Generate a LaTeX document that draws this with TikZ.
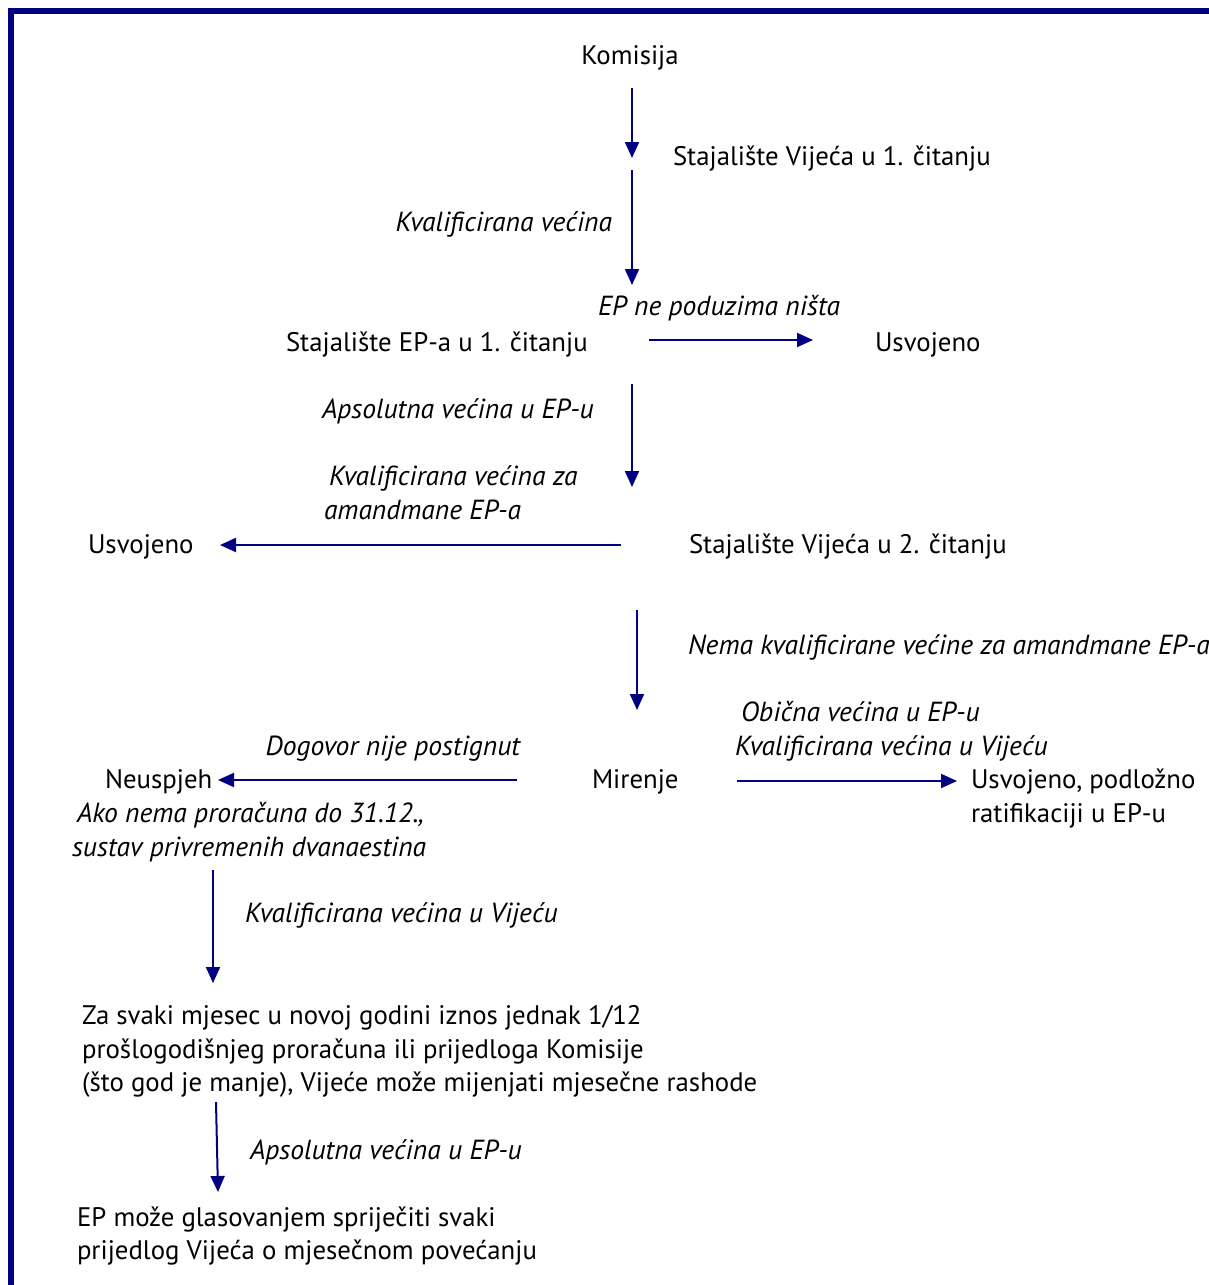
\documentclass[tikz,border=0pt]{standalone}
\usepackage{fontspec}
\setmainfont{PT Sans}
\usetikzlibrary{arrows.meta}
\definecolor{navyc}{RGB}{0,0,128}
\tikzset{
  txt/.style={inner sep=0pt, outer sep=0pt, font=\fontsize{26.8}{34}\selectfont},
  itxt/.style={txt, font=\fontsize{27.6}{34}\selectfont\itshape},
  arr/.style={navyc, line width=2pt, -{Triangle[length=16pt,width=14pt]}},
}
\begin{document}
\begin{tikzpicture}[x=1pt,y=-1pt]
\useasboundingbox (0,0) rectangle (1209,1285);
\clip (0,0) rectangle (1209,1285);
\draw[navyc, line width=6pt] (11,11) rectangle (1400,1500);

\node[txt, anchor=base] (kom) at (630,64) {Komisija};
\node[txt, anchor=base west] (sv1) at (673,165) {Stajalište Vijeća u 1. čitanju};
\node[itxt, anchor=base east] (kv1) at (612,231) {Kvalificirana većina};
\node[itxt, anchor=base west] (epn) at (598,315) {EP ne poduzima ništa};
\node[txt, anchor=base west] (sep) at (286,351) {Stajalište EP-a u 1. čitanju};
\node[txt, anchor=base west] (usv1) at (875,351) {Usvojeno};
\node[itxt, anchor=base west] (aps1) at (322,418) {Apsolutna većina u EP-u};
\node[itxt, anchor=base west] (kvz) at (329,485) {Kvalificirana većina za};
\node[itxt, anchor=base west] (kvz2) at (324,519) {amandmane EP-a};
\node[txt, anchor=base west] (usv2) at (88,553) {Usvojeno};
\node[txt, anchor=base west] (sv2) at (689,553) {Stajalište Vijeća u 2. čitanju};
\node[itxt, anchor=base west] (nema) at (688,654) {Nema kvalificirane većine za amandmane EP-a};
\node[itxt, anchor=base west] (obi) at (741,721) {Obična većina u EP-u};
\node[itxt, anchor=base west] (kvv1) at (735,755) {Kvalificirana većina u Vijeću};
\node[txt, anchor=base west] (mir) at (592,788) {Mirenje};
\node[txt, anchor=base west] (usv3) at (971,788) {Usvojeno, podložno};
\node[txt, anchor=base west] (usv3b) at (971,822) {ratifikaciji u EP-u};
\node[itxt, anchor=base east] (dog) at (520,755) {Dogovor nije postignut};
\node[txt, anchor=base west] (neu) at (105,788) {Neuspjeh};
\node[itxt, anchor=base west] (ako) at (77,822) {Ako nema proračuna do 31.12.,};
\node[itxt, anchor=base west] (sus) at (72,856) {sustav privremenih dvanaestina};
\node[itxt, anchor=base west] (kvv2) at (245,922) {Kvalificirana većina u Vijeću};
\node[txt, anchor=base west] (za1) at (82,1024) {Za svaki mjesec u novoj godini iznos jednak 1/12};
\node[txt, anchor=base west] (za2) at (82,1058) {prošlogodišnjeg proračuna ili prijedloga Komisije};
\node[txt, anchor=base west] (za3) at (82,1091) {(što god je manje), Vijeće može mijenjati mjesečne rashode};
\node[itxt, anchor=base west] (aps2) at (250,1159) {Apsolutna većina u EP-u};
\node[txt, anchor=base west] (epm1) at (77,1226) {EP može glasovanjem spriječiti svaki};
\node[txt, anchor=base west] (epm2) at (77,1259) {prijedlog Vijeća o mjesečnom povećanju};

\coordinate (a1s) at (632,88);   \coordinate (a1e) at (632,158);
\coordinate (a2s) at (632,170);  \coordinate (a2e) at (632,285);
\coordinate (a3s) at (649,340);  \coordinate (a3e) at (813,340);
\coordinate (a4s) at (632,384);  \coordinate (a4e) at (632,487);
\coordinate (a5s) at (621,545);  \coordinate (a5e) at (220,545);
\coordinate (a6s) at (637,610);  \coordinate (a6e) at (637,710);
\coordinate (a7s) at (737,781);  \coordinate (a7e) at (957,781);
\coordinate (a8s) at (517,780);  \coordinate (a8e) at (218,780);
\coordinate (a9s) at (213,870);  \coordinate (a9e) at (213,983);
\coordinate (a10s) at (216,1102); \coordinate (a10e) at (218,1192);

\draw[arr] (a1s) -- (a1e);
\draw[arr] (a2s) -- (a2e);
\draw[arr] (a3s) -- (a3e);
\draw[arr] (a4s) -- (a4e);
\draw[arr] (a5s) -- (a5e);
\draw[arr] (a6s) -- (a6e);
\draw[arr] (a7s) -- (a7e);
\draw[arr] (a8s) -- (a8e);
\draw[arr] (a9s) -- (a9e);
\draw[arr] (a10s) -- (a10e);
\end{tikzpicture}
\end{document}
